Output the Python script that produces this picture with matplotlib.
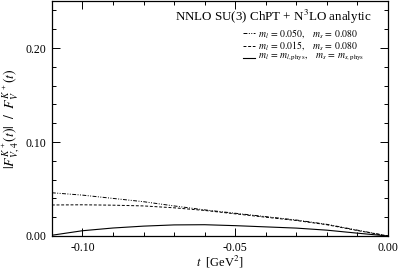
import numpy as np
import matplotlib
matplotlib.use("Agg")
import matplotlib.pyplot as plt
from matplotlib.lines import Line2D
from matplotlib.ticker import MultipleLocator, FormatStrFormatter

plt.rcParams['font.family'] = ['Liberation Serif', 'DejaVu Serif']
plt.rcParams['mathtext.fontset'] = 'stix'

# values
t = [-0.11, -0.10, -0.09, -0.08, -0.07, -0.06, -0.05, -0.04, -0.03, -0.02, -0.01, 0.0]
ratio_050 = [0.046, 0.0435, 0.040, 0.0365, 0.032, 0.0278, 0.0242, 0.0206, 0.0170, 0.0124, 0.0062, 0.0]
ratio_015 = [0.033, 0.0332, 0.0328, 0.032, 0.0300, 0.0272, 0.0236, 0.0200, 0.0165, 0.0120, 0.0058, 0.0]
ratio_phys = [0.0008, 0.0056, 0.0085, 0.0105, 0.0118, 0.0120, 0.0110, 0.0097, 0.0084, 0.0062, 0.0030, 0.0]

labels = [r"$m_l\,=\,0.050,\ \ \ m_s\,=\,0.080$",
          r"$m_l\,=\,0.015,\ \ \ m_s\,=\,0.080$",
          r"$m_l\,=\,m_{l,\mathrm{phys}},\ \ \ m_s\,=\,m_{s,\mathrm{phys}}$"]
styles = [dict(lw=0.7, dashes=(4, 1.5, 1, 1.5, 1, 1.5)),
          dict(lw=0.7, dashes=(3, 1.8)),
          dict(lw=0.8)]

fig = plt.figure(figsize=(3.99, 2.69), dpi=100)
ax = fig.add_axes([0.130, 0.1227, 0.8424, 0.8733])

for y, lab, st in zip([ratio_050, ratio_015, ratio_phys], labels, styles):
    ax.plot(t, y, color='k', label=lab, **st)

ax.set_xlim(-0.11, 0.0)
ax.set_ylim(0.0, 0.25)
ax.xaxis.set_major_locator(MultipleLocator(0.05))
ax.xaxis.set_minor_locator(MultipleLocator(0.01))
ax.yaxis.set_major_locator(MultipleLocator(0.10))
ax.yaxis.set_minor_locator(MultipleLocator(0.02))
ax.xaxis.set_major_formatter(FormatStrFormatter('%.2f'))
ax.yaxis.set_major_formatter(FormatStrFormatter('%.2f'))
ax.tick_params(which='both', direction='in', top=True, right=True, labelsize=8.5, width=0.7)
ax.tick_params(which='major', length=6, pad=4)
ax.tick_params(which='minor', length=3)
for s in ax.spines.values():
    s.set_linewidth(0.9)

ax.set_xlabel(r"$t$  [GeV$^2$]", fontsize=9, labelpad=0)
ax.set_ylabel(r"$|F^{K^+}_{V,4}(t)|\ \ /\ \ F^{K^+}_{V}(t)$", fontsize=10, labelpad=3)

ax.text(0.952, 0.932, r"NNLO SU(3) ChPT + N$^3$LO analytic", transform=ax.transAxes,
        ha='right', va='center', fontsize=9.4)

# legend drawn by hand to get the tight row spacing of the original
row_y = [0.862, 0.810, 0.758]
for yy, lab, st in zip(row_y, labels, styles):
    ax.add_line(Line2D([0.568, 0.603], [yy, yy], transform=ax.transAxes, color='k', **st))
    ax.text(0.612, yy, lab, transform=ax.transAxes, ha='left', va='center', fontsize=7.0)

fig.savefig("out.png", dpi=100)
